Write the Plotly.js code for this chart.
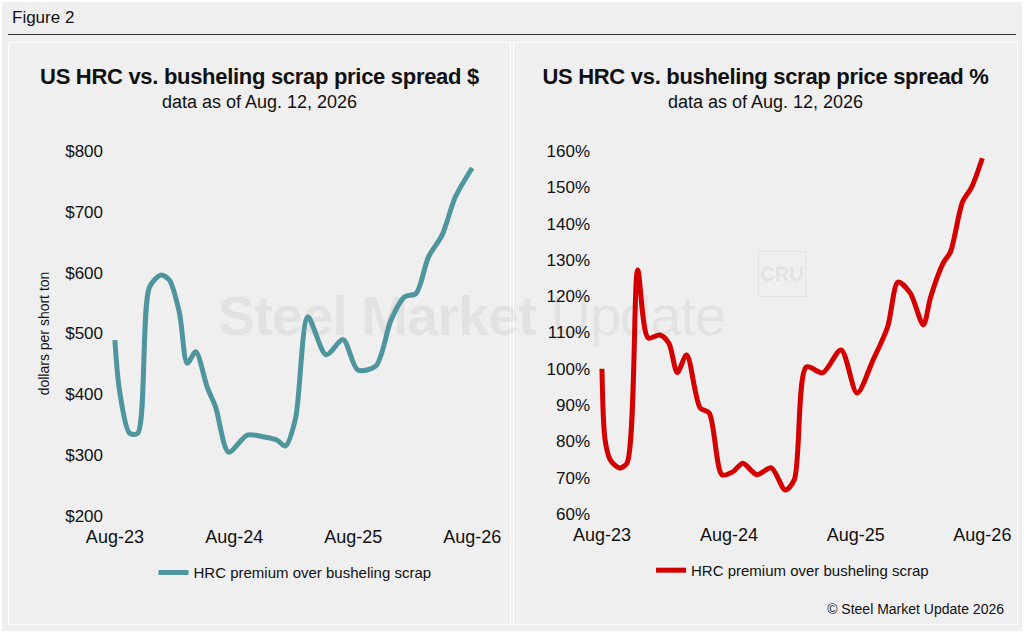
<!DOCTYPE html>
<html>
<head>
<meta charset="utf-8">
<script src="https://cdn.plot.ly/plotly-3.0.1.min.js"></script>
<style>
  body { margin: 0; width: 1024px; height: 633px; background: #fff; font-family: "Liberation Sans", Arial, sans-serif; position: relative; overflow: hidden; }
  #frame { position: absolute; left: 2px; top: 2px; width: 1020px; height: 629px; background: #efefef; }
  #fig { position: absolute; left: 12px; top: 8px; font-size: 17px; color: #111; }
  #rule { position: absolute; left: 8px; top: 34px; width: 1008px; height: 1px; background: #333; }
  .panel { position: absolute; top: 42px; height: 583px; background: #efefef; border: 1px solid #fff; box-sizing: border-box; }
  .ttl { position: absolute; top: 64px; font-size: 22px; font-weight: bold; color: #111; text-align: center; letter-spacing: -0.3px; }
  .sub { position: absolute; top: 92px; font-size: 18px; color: #111; text-align: center; }
  .chart { position: absolute; top: 42px; height: 583px; }
  #wm { position: absolute; left: 218px; top: 283px; font-size: 56px; font-weight: bold; color: rgba(0,0,0,0.05); letter-spacing: -1px; white-space: nowrap; }
  #wm span { font-weight: normal; }
  #cru { position: absolute; left: 758px; top: 251px; width: 46px; height: 44px; border: 1px solid rgba(0,0,0,0.05); font-size: 20px; font-weight: bold; color: rgba(0,0,0,0.07); text-align: center; line-height: 44px; }
  #foot { position: absolute; right: 20px; top: 601px; font-size: 14px; color: #111; }
</style>
</head>
<body>
<div id="frame"></div>
<div id="fig">Figure 2</div>
<div id="rule"></div>
<div class="panel" style="left:8px;width:503px;"></div>
<div class="panel" style="left:513px;width:505px;"></div>
<div class="ttl" style="left:8px;width:503px;">US HRC vs. busheling scrap price spread $</div>
<div class="sub" style="left:8px;width:503px;">data as of Aug. 12, 2026</div>
<div class="ttl" style="left:513px;width:505px;">US HRC vs. busheling scrap price spread %</div>
<div class="sub" style="left:513px;width:505px;">data as of Aug. 12, 2026</div>
<div id="wm">Steel Market <span>Update</span></div>
<div id="cru">CRU</div>
<div id="left" class="chart" style="left:8px;width:503px;"></div>
<div id="right" class="chart" style="left:513px;width:505px;"></div>
<div id="foot">© Steel Market Update 2026</div>
<script>
// Spread in $/short ton
const spreadDates = [
  "2023-08-01", "2023-08-15", "2023-09-15", "2023-10-10", "2023-11-15", "2023-12-20",
  "2024-01-15", "2024-02-15", "2024-03-10", "2024-04-05", "2024-05-10", "2024-06-05",
  "2024-07-15", "2024-09-10", "2024-11-01", "2024-12-10", "2025-01-05", "2025-02-05",
  "2025-03-15", "2025-05-10", "2025-07-01", "2025-08-15", "2025-10-10", "2025-11-25",
  "2026-01-05", "2026-02-10", "2026-03-20", "2026-05-01", "2026-06-10", "2026-08-01",
];
const spreadDollars = [
  489, 407, 336, 336, 576, 596,
  588, 534, 451, 470, 412, 379,
  305, 333, 330, 325, 315, 360,
  527, 465, 490, 440, 447, 522,
  560, 566, 626, 662, 724, 772,
];

// Spread in % of scrap price
const pctDates = [
  "2023-08-01", "2023-08-10", "2023-08-25", "2023-09-20", "2023-10-12", "2023-11-12",
  "2023-12-12", "2024-01-15", "2024-02-10", "2024-03-05", "2024-04-01", "2024-05-10",
  "2024-06-05", "2024-07-12", "2024-08-12", "2024-09-10", "2024-10-20", "2024-12-01",
  "2025-01-10", "2025-02-05", "2025-03-12", "2025-04-28", "2025-06-20", "2025-08-05",
  "2025-09-20", "2025-11-01", "2025-12-01", "2026-01-05", "2026-02-12", "2026-03-05",
  "2026-04-10", "2026-05-01", "2026-06-05", "2026-07-01", "2026-08-01",
];
const spreadPct = [
  100, 80.4, 74.9, 72.7, 74, 127.2,
  108.5, 109.3, 107, 99, 103.8, 89.2,
  87.8, 70.8, 71.6, 74, 70.8, 72.7,
  66.6, 69.4, 100.5, 98.9, 105.2, 93.3,
  102.4, 111.5, 123.9, 120.9, 112.1, 119.8,
  129.1, 132.2, 146, 150, 158,
];

const xTicks = ["2023-08-01", "2024-08-01", "2025-08-01", "2026-08-01"];
const xTickText = ["Aug-23", "Aug-24", "Aug-25", "Aug-26"];
const seriesName = "HRC premium over busheling scrap";

function baseLayout(xRange, margin) {
  return {
    paper_bgcolor: "rgba(0,0,0,0)",
    plot_bgcolor: "rgba(0,0,0,0)",
    margin: margin,
    font: { family: "Liberation Sans, Arial, sans-serif", color: "#111", size: 17 },
    showlegend: true,
    legend: { orientation: "h", x: 0.5, xanchor: "center", y: -0.11, yanchor: "top",
              font: { size: 15 }, bgcolor: "rgba(0,0,0,0)" },
    xaxis: {
      type: "date", range: xRange, tickvals: xTicks, ticktext: xTickText,
      showgrid: false, zeroline: false, showline: false, ticks: "",
      tickfont: { size: 18 }, ticklabelstandoff: 8,
    },
  };
}

const leftTrace = {
  x: spreadDates, y: spreadDollars, type: "scatter", mode: "lines", name: seriesName,
  line: { color: "#4f959d", width: 5, shape: "spline", smoothing: 0.8 },
};
const leftLayout = baseLayout(["2023-07-17", "2026-08-25"], { t: 109, b: 109, l: 102, r: 31 });
leftLayout.yaxis = {
  range: [200, 800], dtick: 100, tickprefix: "$", showgrid: false, zeroline: false,
  ticks: "", ticklabelstandoff: 6, title: { text: "dollars per short ton", font: { size: 14 }, standoff: 12 },
};
Plotly.newPlot("left", [leftTrace], leftLayout, { staticPlot: true });

const rightTrace = {
  x: pctDates, y: spreadPct, type: "scatter", mode: "lines", name: seriesName,
  line: { color: "#d40000", width: 5, shape: "spline", smoothing: 0.8 },
};
const rightLayout = baseLayout(["2023-07-12", "2026-08-23"], { t: 109, b: 111, l: 82, r: 28 });
rightLayout.yaxis = {
  range: [60, 160], dtick: 10, ticksuffix: "%", showgrid: false, zeroline: false,
  ticklabelstandoff: 4,
};
Plotly.newPlot("right", [rightTrace], rightLayout, { staticPlot: true });
</script>
</body>
</html>
